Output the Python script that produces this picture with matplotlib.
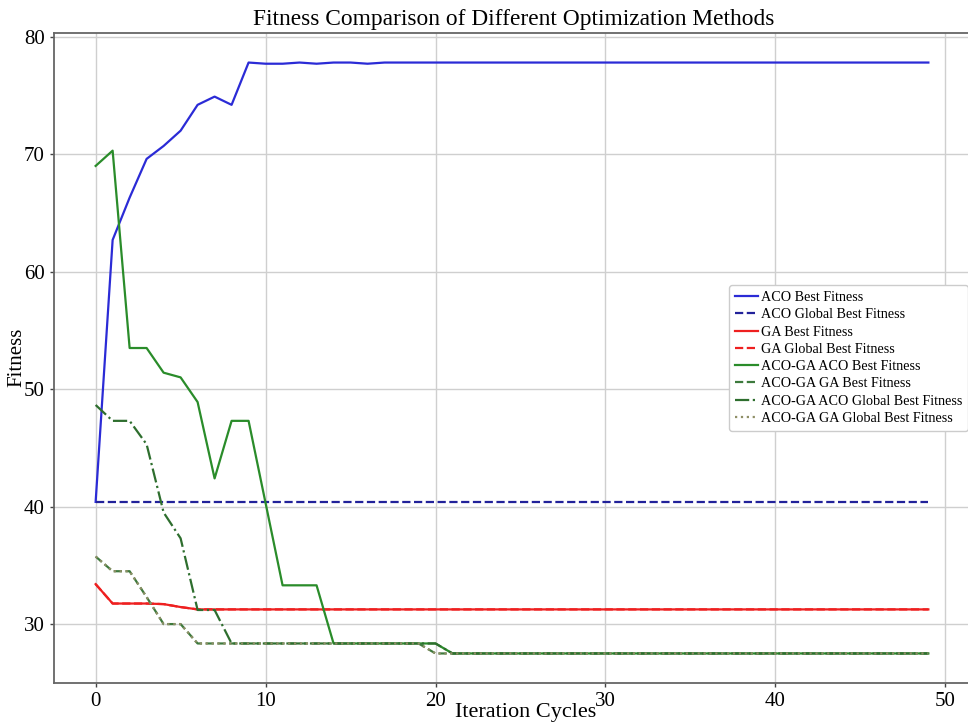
import matplotlib
matplotlib.use("Agg")
import matplotlib.pyplot as plt
import numpy as np

iterations = list(range(50))

aco_best = [40.4, 62.7, 66.3, 69.6, 70.7, 72.0, 74.2, 74.9, 74.2, 77.8,
            77.7, 77.7, 77.8, 77.7, 77.8, 77.8, 77.7, 77.8, 77.8, 77.8] + [77.8] * 30
aco_global = [40.4] * 50
ga_best = [33.4, 31.75, 31.75, 31.75, 31.7, 31.45, 31.25] + [31.25] * 43
ga_global = [33.4, 31.75, 31.75, 31.75, 31.7, 31.45, 31.25] + [31.25] * 43
acoga_aco_best = ([69.0, 70.3, 53.5, 53.5, 51.4, 51.0, 48.9, 42.4, 47.3, 47.3,
                   40.3, 33.3, 33.3, 33.3] + [28.35] * 7 + [27.5] * 29)
acoga_ga_best = [35.75, 34.5, 34.5, 32.3, 30.0, 30.0] + [28.35] * 14 + [27.5] * 30
acoga_aco_global = [48.65, 47.3, 47.3, 45.3, 39.5, 37.3, 31.2, 31.2] + [28.35] * 13 + [27.5] * 29
acoga_ga_global = [35.75, 34.5, 34.5, 32.3, 30.0, 30.0] + [28.35] * 14 + [27.5] * 30

plt.rcParams['font.family'] = ['Liberation Serif', 'DejaVu Serif']

fig = plt.figure(figsize=(9.68, 7.27), dpi=100)
W, H = 968, 727
ax = fig.add_axes([54 / W, 1 - 683 / H, (970 - 54) / W, (683 - 33) / H])

lw = 1.6
ax.plot(iterations, aco_best, color='#2b2bd6', linestyle='-', lw=lw, label='ACO Best Fitness')
ax.plot(iterations, aco_global, color='#22229a', linestyle='--', lw=lw, label='ACO Global Best Fitness')
ax.plot(iterations, ga_best, color='#ee2020', linestyle='-', lw=lw, label='GA Best Fitness')
ax.plot(iterations, ga_global, color='#ee2020', linestyle='--', lw=lw, label='GA Global Best Fitness')
ax.plot(iterations, acoga_aco_best, color='#2a8c2a', linestyle='-', lw=lw, label='ACO-GA ACO Best Fitness')
ax.plot(iterations, acoga_ga_best, color='#3d7a3d', linestyle='--', lw=lw, label='ACO-GA GA Best Fitness')
ax.plot(iterations, acoga_aco_global, color='#2e6e2e', linestyle='-.', lw=lw, label='ACO-GA ACO Global Best Fitness')
ax.plot(iterations, acoga_ga_global, color='#8f8f66', linestyle=':', lw=lw, label='ACO-GA GA Global Best Fitness')

ax.set_xticks([0, 10, 20, 30, 40, 50])
ax.set_yticks([30, 40, 50, 60, 70, 80])
ax.tick_params(labelsize=15, length=3, width=1, colors='#444444', labelcolor='black')
ax.grid(True, color='#cfcfcf', lw=1)
for s in ax.spines.values():
    s.set_color('#666666')
    s.set_linewidth(1.3)

fig.text(514 / W, 1 - 25 / H, 'Fitness Comparison of Different Optimization Methods',
         fontsize=16.8, ha='center', va='baseline')
ax.set_xlabel('Iteration Cycles', fontsize=16)
ax.xaxis.set_label_coords((526 - 54) / 916, -0.031)
ax.set_ylabel('Fitness', fontsize=15)
ax.yaxis.set_label_coords((26 - 54) / 916, (683 - 357) / 650)

leg = ax.legend(loc='center right', fontsize=10.2, handlelength=1.65, handletextpad=0.2,
                labelspacing=0.3, borderpad=0.4, borderaxespad=0.15, framealpha=1,
                edgecolor='#cccccc', fancybox=True)

fig.savefig('out.png', dpi=100)
